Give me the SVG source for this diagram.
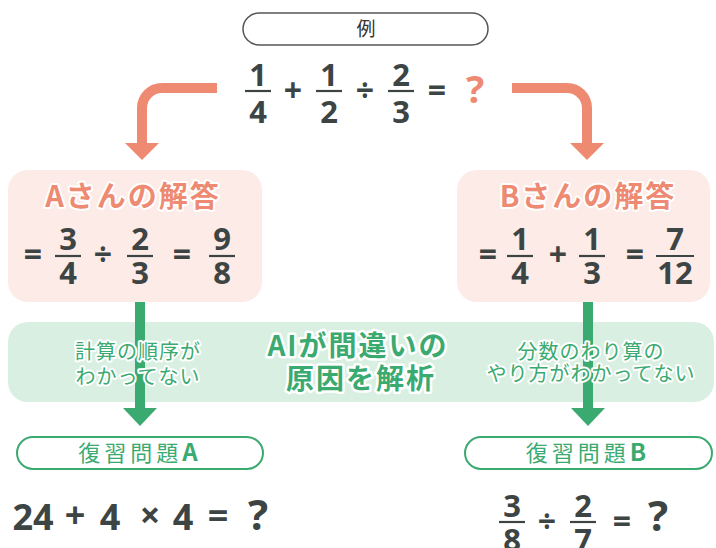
<svg xmlns="http://www.w3.org/2000/svg" width="716" height="548" viewBox="0 0 716 548">
<style>
.m{font-family:"Noto Sans","Noto Sans CJK JP",sans-serif;font-weight:700;fill:#3d4444;text-anchor:middle}
.n{font-size:31px}
.op{font-size:32px}
.bar{stroke:#3d4444;stroke-width:2.2}
.jp{font-family:"Noto Sans CJK JP","Noto Sans",sans-serif;text-anchor:middle}
.halo{paint-order:stroke;stroke:#fff;stroke-linejoin:round}
.or{fill:#ee8a72}
.gr{fill:#3aaa70}
</style>
<rect width="716" height="548" fill="#fff"/>
<g id="connectors">
<path d="M217,88 H162 A20,20 0 0 0 142,108 V144" fill="none" stroke="#ef8a72" stroke-width="10"/>
<polygon points="125,143 159,143 142,160" fill="#ef8a72"/>
<path d="M512,88 H567 A20,20 0 0 1 587,108 V144" fill="none" stroke="#ef8a72" stroke-width="10"/>
<polygon points="570,143 604,143 587,160" fill="#ef8a72"/>
</g>
<g id="example">
<rect x="243" y="13" width="245" height="32" rx="16" fill="#fff" stroke="#555" stroke-width="1.5"/>
<text x="366" y="36" class="jp" font-size="19" fill="#333">例</text>
<text x="258" y="86" class="m n">1</text><line x1="245" y1="91" x2="271" y2="91" class="bar"/><text x="258" y="123" class="m n">4</text>
<text x="293" y="102" class="m op">+</text>
<text x="329" y="86" class="m n">1</text><line x1="316" y1="91" x2="342" y2="91" class="bar"/><text x="329" y="123" class="m n">2</text>
<text x="365" y="102" class="m op">÷</text>
<text x="401" y="86" class="m n">2</text><line x1="388" y1="91" x2="414" y2="91" class="bar"/><text x="401" y="123" class="m n">3</text>
<text x="437" y="102" class="m op">=</text>
<text x="475" y="103" class="m" font-size="38" style="fill:#ee8a72">?</text>
</g>
<g id="answerA">
<rect x="8" y="170" width="254" height="132" rx="20" fill="#fcebe6"/>
<text x="133" y="207" class="jp halo or" font-size="29" font-weight="700" stroke-width="4" letter-spacing="2">Aさんの解答</text>
<text x="33" y="266" class="m op">=</text>
<text x="68" y="250" class="m n">3</text><line x1="55" y1="256" x2="81" y2="256" class="bar"/><text x="68" y="284" class="m n">4</text>
<text x="103" y="266" class="m op">÷</text>
<text x="140" y="250" class="m n">2</text><line x1="127" y1="256" x2="153" y2="256" class="bar"/><text x="140" y="284" class="m n">3</text>
<text x="182" y="266" class="m op">=</text>
<text x="222" y="250" class="m n">9</text><line x1="209" y1="256" x2="235" y2="256" class="bar"/><text x="222" y="284" class="m n">8</text>
</g>
<g id="answerB">
<rect x="457" y="170" width="253" height="132" rx="20" fill="#fcebe6"/>
<text x="588" y="207" class="jp halo or" font-size="29" font-weight="700" stroke-width="4" letter-spacing="2">Bさんの解答</text>
<text x="488" y="266" class="m op">=</text>
<text x="520" y="250" class="m n">1</text><line x1="507" y1="256" x2="533" y2="256" class="bar"/><text x="520" y="284" class="m n">4</text>
<text x="558" y="266" class="m op">+</text>
<text x="592" y="250" class="m n">1</text><line x1="579" y1="256" x2="605" y2="256" class="bar"/><text x="592" y="284" class="m n">3</text>
<text x="635" y="266" class="m op">=</text>
<text x="675" y="250" class="m n">7</text><line x1="656" y1="256" x2="694" y2="256" class="bar"/><text x="675" y="284" class="m n">12</text>
</g>
<g id="analysis">
<rect x="8" y="322" width="706" height="80" rx="20" fill="#d8efe2"/>
</g>
<g id="connectors-green">
<line x1="140" y1="302" x2="140" y2="410" stroke="#3aaa70" stroke-width="10"/>
<polygon points="123,408 157,408 140,426" fill="#3aaa70"/>
<line x1="588" y1="302" x2="588" y2="410" stroke="#3aaa70" stroke-width="10"/>
<polygon points="571,408 605,408 588,426" fill="#3aaa70"/>
</g>
<g id="analysis-text">
<text class="jp halo gr" font-size="20" stroke-width="4" letter-spacing="1"><tspan x="138" y="359">計算の順序が</tspan><tspan x="138" y="384">わかってない</tspan></text>
<text class="jp halo gr" font-size="28" font-weight="700" stroke-width="5" letter-spacing="2"><tspan x="358" y="356">AIが間違いの</tspan><tspan x="361" y="389">原因を解析</tspan></text>
<text class="jp halo gr" font-size="20" stroke-width="4" letter-spacing="1"><tspan x="591" y="359">分数のわり算の</tspan><tspan x="591" y="381">やり方がわかってない</tspan></text>
</g>
<g id="reviewA">
<rect x="17" y="437" width="246" height="32" rx="16" fill="#fff" stroke="#3aaa70" stroke-width="2"/>
<text x="140" y="461" class="jp gr" font-size="22" letter-spacing="4">復習問題<tspan font-weight="700" font-size="24">A</tspan></text>
<g class="m" font-size="36">
<text x="33" y="530">24</text><text x="75" y="528">+</text><text x="110" y="530">4</text><text x="150" y="528">×</text><text x="183" y="530">4</text><text x="218" y="528">=</text><text x="258" y="530" font-size="42">?</text>
</g>
</g>
<g id="reviewB">
<rect x="465" y="437" width="247" height="32" rx="16" fill="#fff" stroke="#3aaa70" stroke-width="2"/>
<text x="588" y="461" class="jp gr" font-size="22" letter-spacing="4">復習問題<tspan font-weight="700" font-size="24">B</tspan></text>
<text x="512" y="517" class="m n">3</text><line x1="499" y1="522" x2="525" y2="522" class="bar"/><text x="512" y="551" class="m n">8</text>
<text x="547" y="533" class="m op">÷</text>
<text x="583" y="517" class="m n">2</text><line x1="570" y1="522" x2="596" y2="522" class="bar"/><text x="583" y="551" class="m n">7</text>
<text x="622" y="533" class="m op">=</text>
<text x="658" y="531" class="m" font-size="42">?</text>
</g>
</svg>
